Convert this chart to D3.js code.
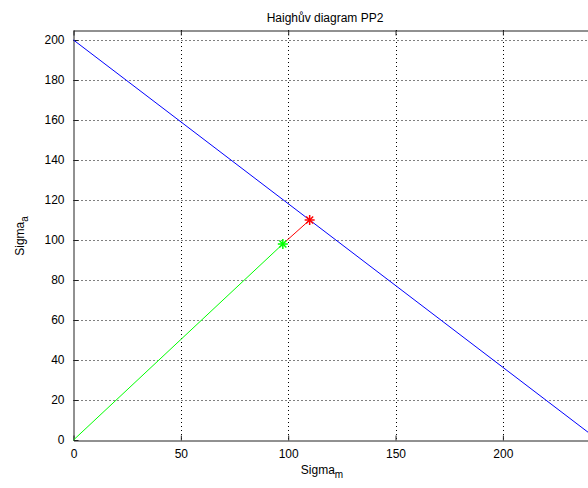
<!DOCTYPE html>
<html>
<head>
<meta charset="utf-8">
<script src="https://cdn.jsdelivr.net/npm/d3@7"></script>
<style>
body { margin: 0; background: #fff; }
text { font-family: "Liberation Sans", Arial, sans-serif; fill: #000; }
</style>
</head>
<body>
<script>
// data
var xTicks = [0, 50, 100, 150, 200];
var yTicks = [0, 20, 40, 60, 80, 100, 120, 140, 160, 180, 200];
var limitLine = [{x: 0, y: 200}, {x: 244.4, y: 0}];     // blue
var loadLine = [{x: 0, y: 0}, {x: 97.5, y: 98}];        // green
var stepLine = [{x: 97.5, y: 98}, {x: 110, y: 110}];    // red
var points = [
    {x: 97.5, y: 98, color: "#00ff00"},
    {x: 110, y: 110, color: "#ff0000"}
];

var w = 588, h = 488;
var svg = d3.select("body").append("svg")
    .attr("width", w)
    .attr("height", h);

var x = d3.scaleLinear().domain([0, 245]).range([73.5, 599.5]);
var y = d3.scaleLinear().domain([0, 205]).range([440, 30]);

// grid
var grid = svg.append("g").attr("class", "grid");
grid.selectAll(".gx").data(xTicks.filter(function(d){ return d > 0; }))
    .enter().append("line")
    .attr("x1", function(d){ return Math.round(x(d)) + 0.5; })
    .attr("x2", function(d){ return Math.round(x(d)) + 0.5; })
    .attr("y1", y(205)).attr("y2", y(0))
    .attr("stroke", "#000").attr("stroke-dasharray", "1,3");
grid.selectAll(".gy").data(yTicks.filter(function(d){ return d > 0; }))
    .enter().append("line")
    .attr("y1", function(d){ return Math.round(y(d)) + 0.5; })
    .attr("y2", function(d){ return Math.round(y(d)) + 0.5; })
    .attr("x1", x(0)).attr("x2", x(245))
    .attr("stroke", "#000").attr("stroke-dasharray", "1,3");

// axes
var xAxis = d3.axisBottom(x).tickValues(xTicks).tickSizeInner(-5).tickSizeOuter(0).tickPadding(9);
var yAxis = d3.axisLeft(y).tickValues(yTicks).tickSizeInner(-5).tickSizeOuter(0).tickPadding(9);
var xTop = d3.axisTop(x).tickValues(xTicks).tickSizeInner(-5).tickSizeOuter(0).tickFormat("");

svg.append("g").attr("transform", "translate(0," + 440.5 + ")").call(xAxis);
svg.append("g").attr("transform", "translate(" + 73.5 + ",0)").call(yAxis);
svg.append("g").attr("transform", "translate(0," + 30.5 + ")").call(xTop);
svg.selectAll(".domain").attr("stroke", "#222");
svg.selectAll(".tick line").attr("stroke", "#222");
svg.selectAll(".tick text").style("font-size", "12px").attr("fill", "#000");

// lines
var line = d3.line().x(function(d){ return x(d.x); }).y(function(d){ return y(d.y); });
svg.append("path").datum(limitLine).attr("d", line).attr("fill", "none").attr("stroke", "#0000ff");
svg.append("path").datum(loadLine).attr("d", line).attr("fill", "none").attr("stroke", "#00ff00");
svg.append("path").datum(stepLine).attr("d", line).attr("fill", "none").attr("stroke", "#ff0000");

// asterisk markers
var stars = svg.selectAll(".star").data(points).enter().append("g")
    .attr("transform", function(d){ return "translate(" + x(d.x) + "," + y(d.y) + ")"; })
    .attr("stroke", function(d){ return d.color; })
    .attr("stroke-width", 1.5);
stars.append("line").attr("x1", -5).attr("x2", 5).attr("y1", 0).attr("y2", 0);
stars.append("line").attr("x1", 0).attr("x2", 0).attr("y1", -5).attr("y2", 5);
stars.append("line").attr("x1", -3.5).attr("x2", 3.5).attr("y1", -3.5).attr("y2", 3.5);
stars.append("line").attr("x1", -3.5).attr("x2", 3.5).attr("y1", 3.5).attr("y2", -3.5);

// title and labels
svg.append("text").attr("x", 325).attr("y", 22).attr("text-anchor", "middle")
    .style("font-size", "12px").text("Haighův diagram PP2");

var xl = svg.append("text").attr("x", 322).attr("y", 474).attr("text-anchor", "middle")
    .style("font-size", "12px");
xl.append("tspan").text("Sigma");
xl.append("tspan").attr("dy", 4).style("font-size", "10px").text("m");

var yl = svg.append("text").attr("transform", "translate(24,236) rotate(-90)")
    .attr("text-anchor", "middle").style("font-size", "12px");
yl.append("tspan").text("Sigma");
yl.append("tspan").attr("dy", 4).style("font-size", "10px").text("a");
</script>
</body>
</html>
